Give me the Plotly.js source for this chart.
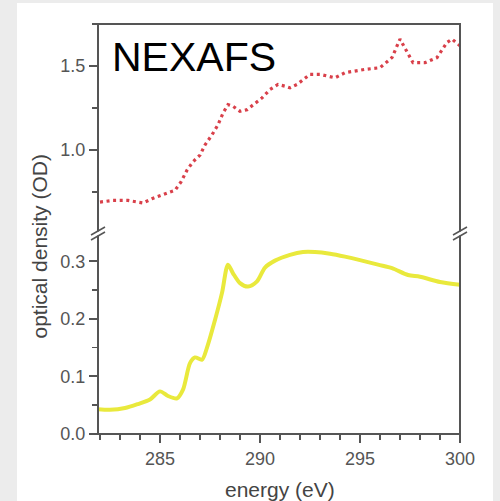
<!DOCTYPE html>
<html>
<head>
<meta charset="utf-8">
<script src="https://cdn.plot.ly/plotly-3.0.1.min.js"></script>
<style>
  html, body { margin: 0; padding: 0; background: #ececec; }
  #chart { width: 500px; height: 501px; }
</style>
</head>
<body>
<div id="chart"></div>
<script>
// NEXAFS spectrum (upper panel, red dots)
const energyNexafs = [282.0, 282.65, 283.4, 284.15, 284.6, 285.0, 285.5, 285.75, 286.05, 286.35,
  286.65, 287.0, 287.25, 287.6, 287.9, 288.15, 288.4, 288.65, 289.0, 289.35,
  289.65, 290.1, 290.5, 290.9, 291.25, 291.5, 291.85, 292.25, 292.5, 293.0,
  293.75, 294.25, 295.25, 296.0, 296.6, 297.0, 297.35, 297.65, 298.25, 298.85,
  299.35, 299.6, 300.0];
const odNexafs = [0.69, 0.70, 0.70, 0.685, 0.71, 0.73, 0.75, 0.76, 0.81, 0.88,
  0.93, 0.97, 1.03, 1.09, 1.15, 1.22, 1.27, 1.26, 1.23, 1.24,
  1.27, 1.31, 1.36, 1.39, 1.38, 1.37, 1.39, 1.43, 1.45, 1.45,
  1.43, 1.46, 1.48, 1.49, 1.55, 1.66, 1.58, 1.52, 1.52, 1.55,
  1.64, 1.66, 1.62];

// Absorption spectrum (lower panel, yellow line)
const energyAbs = [281.9, 282.5, 283.25, 283.9, 284.5, 285.0, 285.4, 285.85, 286.15, 286.5,
  286.75, 287.1, 287.35, 287.75, 288.1, 288.4, 288.65, 289.0, 289.4, 289.85,
  290.25, 290.75, 291.5, 292.15, 292.75, 293.5, 294.25, 295.0, 295.9, 296.6,
  297.4, 298.0, 299.0, 300.0];
const odAbs = [0.043, 0.042, 0.045, 0.052, 0.060, 0.074, 0.066, 0.062, 0.077, 0.123,
  0.133, 0.129, 0.150, 0.198, 0.245, 0.294, 0.279, 0.262, 0.256, 0.265,
  0.289, 0.301, 0.311, 0.316, 0.316, 0.313, 0.308, 0.302, 0.294, 0.288,
  0.276, 0.273, 0.264, 0.259];

const tickFont = { family: 'Liberation Sans, Arial, sans-serif', size: 18, color: '#555555' };
const axisGray = '#555555';

// plot area in pixels: left 98, right 460, top 24, bottom 434
const L = 98, R = 460, T = 24, B = 434;
const px = v => (v - L) / (R - L);
const py = v => (B - v) / (B - T);

const traces = [
  {
    x: energyAbs, y: odAbs, xaxis: 'x', yaxis: 'y',
    mode: 'lines', line: { color: '#e9e93c', width: 4, shape: 'spline', smoothing: 0.8 },
    hoverinfo: 'skip'
  },
  {
    x: energyNexafs, y: odNexafs, xaxis: 'x', yaxis: 'y2',
    mode: 'lines', line: { color: '#d9404a', width: 3.2, dash: '3px,3.6px' },
    hoverinfo: 'skip'
  }
];

const commonY = {
  ticks: 'outside', ticklen: 8, tickwidth: 2, tickcolor: axisGray,
  showgrid: false, zeroline: false, showline: false,
  tickfont: tickFont, tickformat: '.1f', anchor: 'x', fixedrange: true
};

// "//" axis-break marks crossing a vertical axis line at pixel x = xc
function breakMarks(xc) {
  return [
    { type: 'line', xref: 'paper', yref: 'paper', layer: 'above',
      x0: px(xc), x1: px(xc), y0: py(231.5), y1: py(235.5),
      line: { color: '#ffffff', width: 5 } },
    { type: 'line', xref: 'paper', yref: 'paper', layer: 'above',
      x0: px(xc - 7), y0: py(235), x1: px(xc + 7), y1: py(227),
      line: { color: axisGray, width: 1.5 } },
    { type: 'line', xref: 'paper', yref: 'paper', layer: 'above',
      x0: px(xc - 7), y0: py(240), x1: px(xc + 7), y1: py(232),
      line: { color: axisGray, width: 1.5 } }
  ];
}

const layout = {
  width: 500, height: 501,
  margin: { l: L, r: 500 - R, t: T, b: 501 - B },
  paper_bgcolor: '#ececec',
  plot_bgcolor: '#c2c2c2',
  showlegend: false,
  xaxis: {
    domain: [0, 1], range: [281.9, 300], anchor: 'y',
    tickmode: 'linear', tick0: 0, dtick: 5,
    ticks: 'outside', ticklen: 8, tickwidth: 2, tickcolor: axisGray,
    minor: { ticks: 'outside', ticklen: 5, tickwidth: 1.5, tickcolor: axisGray, tickmode: 'linear', tick0: 0, dtick: 1 },
    showgrid: false, zeroline: false, showline: false,
    tickfont: tickFont, fixedrange: true
  },
  yaxis: Object.assign({}, commonY, {
    domain: [0, py(233)], range: [0, 0.349],
    tickmode: 'linear', tick0: 0, dtick: 0.1,
    minor: { ticks: 'outside', ticklen: 5, tickwidth: 1.5, tickcolor: axisGray, tickmode: 'linear', tick0: 0, dtick: 0.05 }
  }),
  yaxis2: Object.assign({}, commonY, {
    domain: [py(233), 1], range: [0.506, 1.75],
    tickmode: 'linear', tick0: 0, dtick: 0.5,
    minor: { ticks: 'outside', ticklen: 5, tickwidth: 1.5, tickcolor: axisGray, tickmode: 'linear', tick0: 0, dtick: 0.25 }
  }),
  shapes: [
    // white card behind the figure
    { type: 'rect', xref: 'paper', yref: 'paper', layer: 'below',
      x0: px(17), x1: px(493), y0: py(501), y1: py(3),
      fillcolor: '#ffffff', line: { width: 0 } },
    // frame round the plot area
    { type: 'rect', xref: 'paper', yref: 'paper', layer: 'above',
      x0: 0, x1: 1, y0: 0, y1: 1,
      fillcolor: 'rgba(0,0,0,0)', line: { color: axisGray, width: 2 } }
  ].concat(breakMarks(L), breakMarks(R)),
  annotations: [
    { text: 'NEXAFS', xref: 'paper', yref: 'paper', x: px(110), y: py(57),
      xanchor: 'left', yanchor: 'middle', showarrow: false,
      font: { family: 'Liberation Sans, Arial, sans-serif', size: 41, color: '#000000' } },
    { text: 'optical density (OD)', xref: 'paper', yref: 'paper', x: px(38.5), y: py(247),
      xanchor: 'center', yanchor: 'middle', textangle: -90, showarrow: false,
      font: { family: 'Liberation Sans, Arial, sans-serif', size: 21, color: '#444444' } },
    { text: 'energy (eV)', xref: 'paper', yref: 'paper', x: px(280), y: py(489),
      xanchor: 'center', yanchor: 'middle', showarrow: false,
      font: { family: 'Liberation Sans, Arial, sans-serif', size: 21, color: '#444444' } }
  ]
};

Plotly.newPlot('chart', traces, layout, { displayModeBar: false, staticPlot: true });
</script>
</body>
</html>
